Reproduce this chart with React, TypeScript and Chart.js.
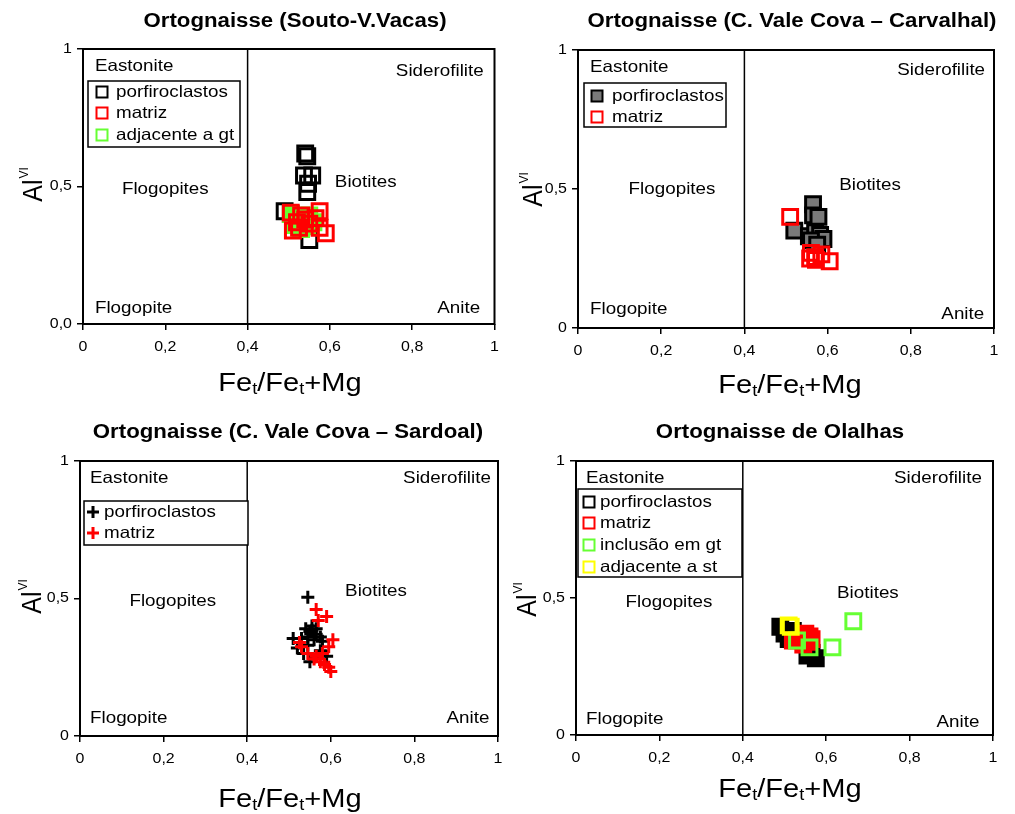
import React, { useEffect, useRef } from "react";
import { Chart, registerables } from "chart.js";
Chart.register(...registerables);

type Pt = [number, number];

const FONT = '"Liberation Sans", Arial, sans-serif';
const SX = 1.14; // horizontal stretch of text, as in the reference

const xTickLabels = ["0", "0,2", "0,4", "0,6", "0,8", "1"];
const yTickLabelsA = ["0,0", "0,5", "1"];
const yTickLabelsB = ["0", "0,5", "1"];
const fieldNames = ["Eastonite", "Siderofilite", "Flogopites", "Biotites", "Flogopite", "Anite"];
const dividerX = 0.4;

// Panel 1 – Ortognaisse (Souto-V.Vacas)
const p1Title = "Ortognaisse (Souto-V.Vacas)";
const p1Porfiroclastos: Pt[] = [[0.54, 0.62], [0.545, 0.61], [0.537, 0.54], [0.557, 0.54], [0.547, 0.51], [0.545, 0.48], [0.49, 0.41], [0.505, 0.4], [0.53, 0.37], [0.55, 0.305]];
const p1Matriz: Pt[] = [[0.505, 0.405], [0.53, 0.395], [0.575, 0.41], [0.52, 0.37], [0.51, 0.34], [0.55, 0.365], [0.575, 0.35], [0.59, 0.33], [0.54, 0.38], [0.565, 0.385], [0.525, 0.35]];
const p1Adjacente: Pt[] = [[0.505, 0.4], [0.52, 0.385], [0.535, 0.37], [0.545, 0.355], [0.515, 0.36], [0.55, 0.395], [0.53, 0.345], [0.56, 0.37]];

// Panel 2 – Ortognaisse (C. Vale Cova – Carvalhal)
const p2Title = "Ortognaisse (C. Vale Cova \u2013 Carvalhal)";
const p2Porfiroclastos: Pt[] = [[0.565, 0.445], [0.565, 0.405], [0.578, 0.4], [0.52, 0.35], [0.555, 0.33], [0.57, 0.345], [0.582, 0.335], [0.59, 0.32], [0.56, 0.315], [0.575, 0.3]];
const p2Matriz: Pt[] = [[0.51, 0.4], [0.56, 0.27], [0.57, 0.255], [0.585, 0.265], [0.572, 0.245], [0.605, 0.24], [0.558, 0.25]];

// Panel 3 – Ortognaisse (C. Vale Cova – Sardoal)
const p3Title = "Ortognaisse (C. Vale Cova \u2013 Sardoal)";
const p3Porfiroclastos: Pt[] = [[0.545, 0.505], [0.555, 0.4], [0.565, 0.39], [0.55, 0.38], [0.565, 0.37], [0.545, 0.36], [0.56, 0.35], [0.575, 0.36], [0.53, 0.355], [0.51, 0.355], [0.52, 0.32], [0.535, 0.3], [0.545, 0.33], [0.58, 0.345], [0.575, 0.31], [0.59, 0.29], [0.565, 0.29], [0.55, 0.27], [0.555, 0.385], [0.54, 0.39]];
const p3Matriz: Pt[] = [[0.565, 0.46], [0.59, 0.435], [0.57, 0.42], [0.525, 0.34], [0.53, 0.325], [0.545, 0.3], [0.56, 0.28], [0.575, 0.27], [0.585, 0.26], [0.595, 0.25], [0.6, 0.235], [0.605, 0.35], [0.595, 0.325], [0.58, 0.3], [0.565, 0.29]];

// Panel 4 – Ortognaisse de Olalhas
const p4Title = "Ortognaisse de Olalhas";
const p4Porfiroclastos: Pt[] = [[0.49, 0.395], [0.5, 0.37], [0.51, 0.35], [0.54, 0.36], [0.565, 0.3], [0.575, 0.28], [0.555, 0.29], [0.52, 0.38]];
const p4Matriz: Pt[] = [[0.52, 0.345], [0.55, 0.37], [0.555, 0.34], [0.56, 0.36], [0.545, 0.33], [0.565, 0.35]];
const p4Inclusao: Pt[] = [[0.53, 0.345], [0.56, 0.32], [0.615, 0.32], [0.665, 0.415]];
const p4Adjacente: Pt[] = [[0.51, 0.4], [0.515, 0.395]];

const RED = "#ff0000";
const GREEN = "#66ff33";
const YELLOW = "#ffff00";
const BLACK = "#000000";
const GRAY = "#7a7a7a";
const NONE = "rgba(0,0,0,0)";

interface SeriesDef {
  label: string;
  data: Pt[];
  color: string;
  fill: string;
  legendFill: string;
  style: "rect" | "cross";
  order: number;
}
interface PanelDef {
  left: number; top: number; w: number; h: number;
  area: { l: number; r: number; t: number; b: number };
  title: string; titleX: number; titleY: number;
  xTitleX: number; xTitleY: number; yTitleX: number; yTitleY: number;
  yTicks: string[];
  series: SeriesDef[];
  fields: [number, number][];
  legend: { x: number; y: number; w: number; h: number; rows: number[]; mx: number; tx: number };
}

const fieldAlign: CanvasTextAlign[] = ["left", "center", "center", "center", "left", "center"];

const panels: PanelDef[] = [
  {
    left: 0, top: 0, w: 508, h: 407,
    area: { l: 83, r: 498, t: 49, b: 324 },
    title: p1Title, titleX: 295, titleY: 22,
    xTitleX: 290, xTitleY: 384, yTitleX: 34, yTitleY: 185,
    yTicks: yTickLabelsA,
    series: [
      { label: "porfiroclastos", data: p1Porfiroclastos, color: BLACK, fill: NONE, legendFill: NONE, style: "rect", order: 3 },
      { label: "matriz", data: p1Matriz, color: RED, fill: NONE, legendFill: NONE, style: "rect", order: 1 },
      { label: "adjacente a gt", data: p1Adjacente, color: GREEN, fill: GREEN, legendFill: NONE, style: "rect", order: 2 },
    ],
    fields: [[0.029, 0.065], [0.867, 0.08], [0.2, 0.51], [0.687, 0.487], [0.029, 0.942], [0.913, 0.945]],
    legend: { x: 88, y: 81, w: 152, h: 66, rows: [92, 113, 135], mx: 102, tx: 116 },
  },
  {
    left: 508, top: 0, w: 507, h: 407,
    area: { l: 70, r: 486, t: 50, b: 328 },
    title: p2Title, titleX: 284, titleY: 22,
    xTitleX: 282, xTitleY: 386, yTitleX: 26, yTitleY: 190,
    yTicks: yTickLabelsB,
    series: [
      { label: "porfiroclastos", data: p2Porfiroclastos, color: BLACK, fill: GRAY, legendFill: GRAY, style: "rect", order: 2 },
      { label: "matriz", data: p2Matriz, color: RED, fill: NONE, legendFill: NONE, style: "rect", order: 1 },
    ],
    fields: [[0.029, 0.061], [0.873, 0.072], [0.226, 0.5], [0.702, 0.486], [0.029, 0.932], [0.925, 0.95]],
    legend: { x: 76, y: 83, w: 142, h: 44, rows: [96, 117], mx: 89, tx: 104 },
  },
  {
    left: 0, top: 407, w: 508, h: 407,
    area: { l: 80, r: 498, t: 54, b: 329 },
    title: p3Title, titleX: 288, titleY: 26,
    xTitleX: 290, xTitleY: 393, yTitleX: 33, yTitleY: 190,
    yTicks: yTickLabelsB,
    series: [
      { label: "porfiroclastos", data: p3Porfiroclastos, color: BLACK, fill: BLACK, legendFill: BLACK, style: "cross", order: 2 },
      { label: "matriz", data: p3Matriz, color: RED, fill: RED, legendFill: RED, style: "cross", order: 1 },
    ],
    fields: [[0.024, 0.065], [0.878, 0.062], [0.222, 0.51], [0.708, 0.476], [0.024, 0.935], [0.928, 0.938]],
    legend: { x: 84, y: 94, w: 164, h: 44, rows: [105, 126], mx: 93, tx: 104 },
  },
  {
    left: 508, top: 407, w: 507, h: 407,
    area: { l: 68, r: 485, t: 54, b: 328 },
    title: p4Title, titleX: 272, titleY: 26,
    xTitleX: 282, xTitleY: 383, yTitleX: 20, yTitleY: 193,
    yTicks: yTickLabelsB,
    series: [
      { label: "porfiroclastos", data: p4Porfiroclastos, color: BLACK, fill: BLACK, legendFill: NONE, style: "rect", order: 4 },
      { label: "matriz", data: p4Matriz, color: RED, fill: RED, legendFill: NONE, style: "rect", order: 3 },
      { label: "inclus\u00e3o em gt", data: p4Inclusao, color: GREEN, fill: NONE, legendFill: NONE, style: "rect", order: 2 },
      { label: "adjacente a st", data: p4Adjacente, color: YELLOW, fill: NONE, legendFill: NONE, style: "rect", order: 1 },
    ],
    fields: [[0.024, 0.062], [0.868, 0.062], [0.223, 0.518], [0.7, 0.482], [0.024, 0.945], [0.916, 0.953]],
    legend: { x: 70, y: 82, w: 164, h: 88, rows: [95, 116, 138, 160], mx: 81, tx: 92 },
  },
];

function drawText(ctx: CanvasRenderingContext2D, text: string, x: number, y: number, font: string, align: CanvasTextAlign) {
  ctx.save();
  ctx.translate(x, y);
  ctx.scale(SX, 1);
  ctx.font = font;
  ctx.fillStyle = "#000";
  ctx.textAlign = align;
  ctx.textBaseline = "middle";
  ctx.fillText(text, 0, 0);
  ctx.restore();
}

function makePlugin(p: PanelDef) {
  return {
    id: "deco",
    afterDraw(chart: any) {
      const ctx: CanvasRenderingContext2D = chart.ctx;
      const ca = chart.chartArea;
      const xs = chart.scales.x;
      const ys = chart.scales.y;
      ctx.save();
      // frame
      ctx.strokeStyle = "#000";
      ctx.lineWidth = 2;
      ctx.strokeRect(ca.left, ca.top, ca.right - ca.left, ca.bottom - ca.top);
      // tick labels
      xs.ticks.forEach((t: any, i: number) => {
        drawText(ctx, xTickLabels[i] ?? "", xs.getPixelForValue(t.value), ca.bottom + 23, `14px ${FONT}`, "center");
      });
      ys.ticks.forEach((t: any, i: number) => {
        drawText(ctx, p.yTicks[i] ?? "", ca.left - 11, ys.getPixelForValue(t.value), `14px ${FONT}`, "right");
      });
      // field names
      p.fields.forEach(([fx, fy], i) => {
        const x = ca.left + fx * (ca.right - ca.left);
        const y = ca.top + fy * (ca.bottom - ca.top);
        drawText(ctx, fieldNames[i], x, y, `16.5px ${FONT}`, fieldAlign[i]);
      });
      // legend
      const L = p.legend;
      ctx.fillStyle = "#fff";
      ctx.fillRect(L.x, L.y, L.w, L.h);
      ctx.strokeStyle = "#000";
      ctx.lineWidth = 1.5;
      ctx.strokeRect(L.x, L.y, L.w, L.h);
      p.series.forEach((s, i) => {
        const cy = L.rows[i];
        ctx.save();
        if (s.style === "rect") {
          ctx.fillStyle = s.legendFill;
          ctx.fillRect(L.mx - 5.5, cy - 5.5, 11, 11);
          ctx.strokeStyle = s.color;
          ctx.lineWidth = 2;
          ctx.strokeRect(L.mx - 5.5, cy - 5.5, 11, 11);
        } else {
          ctx.strokeStyle = s.color;
          ctx.lineWidth = 3;
          ctx.beginPath();
          ctx.moveTo(L.mx - 6, cy);
          ctx.lineTo(L.mx + 6, cy);
          ctx.moveTo(L.mx, cy - 6);
          ctx.lineTo(L.mx, cy + 6);
          ctx.stroke();
        }
        ctx.restore();
        drawText(ctx, s.label, L.tx, cy, `16.5px ${FONT}`, "left");
      });
      // title
      drawText(ctx, p.title, p.titleX, p.titleY, `bold 19.5px ${FONT}`, "center");
      // x axis title: Fe_t/Fe_t+Mg
      const big = `25.5px ${FONT}`;
      const small = `16px ${FONT}`;
      const segs: [string, string, number][] = [["Fe", big, 0], ["t", small, 6], ["/Fe", big, 0], ["t", small, 6], ["+Mg", big, 0]];
      let total = 0;
      const widths = segs.map(([t, f]) => { ctx.font = f; const w = ctx.measureText(t).width * SX; total += w; return w; });
      let cx = p.xTitleX - total / 2;
      segs.forEach(([t, f, dy], i) => {
        drawText(ctx, t, cx, p.xTitleY + dy, f, "left");
        cx += widths[i];
      });
      // y axis title: Al^VI
      ctx.save();
      ctx.translate(p.yTitleX, p.yTitleY);
      ctx.rotate(-Math.PI / 2);
      ctx.scale(1, SX);
      ctx.fillStyle = "#000";
      ctx.textBaseline = "middle";
      ctx.textAlign = "left";
      ctx.font = `25px ${FONT}`;
      const wAl = ctx.measureText("Al").width;
      ctx.font = `12px ${FONT}`;
      const wVI = ctx.measureText("VI").width;
      const start = -(wAl + wVI) / 2;
      ctx.font = `25px ${FONT}`;
      ctx.fillText("Al", start, 0);
      ctx.font = `12px ${FONT}`;
      ctx.fillText("VI", start + wAl + 1, -9);
      ctx.restore();
      ctx.restore();
    },
  };
}

function Panel({ p }: { p: PanelDef }) {
  const ref = useRef<HTMLCanvasElement>(null);
  useEffect(() => {
    const canvas = ref.current!;
    const datasets: any[] = p.series.map((s) => ({
      label: s.label,
      data: s.data.map(([x, y]) => ({ x, y })),
      pointStyle: s.style,
      pointRadius: s.style === "rect" ? 10.5 : 6.5,
      pointBorderWidth: 3,
      pointBorderColor: s.color,
      pointBackgroundColor: s.fill,
      borderColor: s.color,
      backgroundColor: s.fill,
      showLine: false,
      order: s.order,
    }));
    datasets.push({
      label: "divider",
      data: [{ x: dividerX, y: 0 }, { x: dividerX, y: 1 }],
      showLine: true,
      borderColor: "#000",
      borderWidth: 1.5,
      pointRadius: 0,
      order: 10,
    });
    const gridOpts = { drawOnChartArea: false, drawTicks: true, tickLength: 6, color: "#000", lineWidth: 1.5 };
    const chart = new Chart(canvas, {
      type: "scatter",
      data: { datasets },
      options: {
        responsive: false,
        animation: false,
        devicePixelRatio: 1,
        layout: { padding: { top: p.area.t, right: p.w - p.area.r, left: 0, bottom: 0 } },
        plugins: { legend: { display: false }, tooltip: { enabled: false }, title: { display: false } },
        scales: {
          x: {
            type: "linear", min: 0, max: 1,
            ticks: { stepSize: 0.2, display: false },
            grid: gridOpts,
            border: { display: false },
            afterFit: (s: any) => { s.height = p.h - p.area.b; },
          },
          y: {
            type: "linear", min: 0, max: 1,
            ticks: { stepSize: 0.5, display: false },
            grid: gridOpts,
            border: { display: false },
            afterFit: (s: any) => { s.width = p.area.l; },
          },
        },
      } as any,
      plugins: [makePlugin(p)],
    });
    return () => chart.destroy();
  }, [p]);
  return (
    <canvas
      ref={ref}
      width={p.w}
      height={p.h}
      style={{ position: "absolute", left: p.left, top: p.top, width: p.w, height: p.h }}
    />
  );
}

export default function App() {
  return (
    <div style={{ position: "absolute", left: 0, top: 0, width: 1015, height: 814, background: "#fff" }}>
      {panels.map((p, i) => (
        <Panel key={i} p={p} />
      ))}
    </div>
  );
}
